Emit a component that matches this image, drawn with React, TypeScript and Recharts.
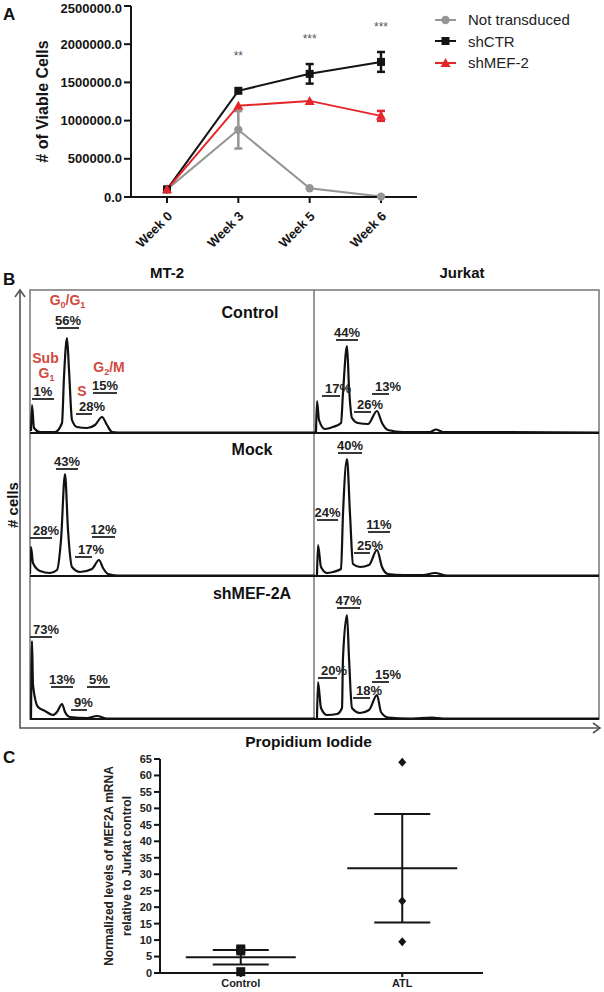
import React from "react";
import {
  LineChart, Line, XAxis, YAxis, ErrorBar, LabelList, Legend,
  ReferenceLine, ScatterChart, Scatter,
} from "recharts";

// ---- A: viable cells per week ----
const weeks = ["Week 0", "Week 3", "Week 5", "Week 6"];
const notTransduced = [100000, 880000, 115000, 5000];
const notTransducedSem = [0, 245000, 0, 0];
const shCTR = [100000, 1390000, 1612000, 1768000];
const shCTRSem = [0, 0, 128000, 130000];
const shMEF2 = [100000, 1195000, 1258000, 1062000];
const shMEF2Sem = [0, 0, 0, 65000];
const significance = ["", "**", "***", "***"];
const viableTicks = [0, 500000, 1000000, 1500000, 2000000, 2500000];

// ---- B: PI histograms, [channel, count] ----
const mt2Control = [[1, 2], [2, 28], [4, 5], [10, 1], [25, 1], [32, 10], [34, 56], [37, 95], [39, 63], [42, 13], [47, 6], [57, 5], [65, 8], [72, 16], [77, 8], [82, 1], [88, 0.5], [285, 0.5]];
const jurkatControl = [[2, 1], [3, 32], [5, 13], [11, 4], [19, 6], [27, 10], [29, 40], [33, 87], [35, 46], [38, 15], [44, 10], [54, 9], [63, 22], [68, 10], [74, 3], [89, 1], [116, 1], [122, 3.5], [129, 1], [285, 0.5]];
const mt2Mock = [[0, 2], [1, 29], [3, 13], [10, 5], [20, 3], [27, 6], [31, 36], [35, 102], [38, 46], [42, 9], [50, 4], [62, 7], [69, 16], [73, 8], [78, 2], [87, 0.5], [285, 0.5]];
const jurkatMock = [[3, 1], [4, 31], [7, 9], [13, 3], [19, 4], [27, 7], [29, 62], [33, 117], [36, 62], [39, 12], [46, 9], [55, 11], [63, 26], [68, 9], [74, 2], [89, 1], [109, 1], [121, 3], [133, 0.5], [285, 0.5]];
const mt2Shmef = [[1, 1], [2, 78], [3, 34], [8, 12], [15, 8], [23, 4], [27, 7], [32, 15], [35, 7], [40, 2], [57, 1], [67, 3], [77, 0.5], [285, 0.5]];
const jurkatShmef = [[3, 1], [4, 37], [7, 11], [13, 4], [23, 5], [28, 11], [29, 61], [33, 104], [35, 61], [38, 11], [46, 6], [55, 9], [63, 24], [67, 7], [74, 1.5], [96, 0.5], [118, 1.5], [129, 0.5], [285, 0.5]];

// gates: percentage, channel range, label height
const mt2ControlGates = [{ pct: "1%", lo: 2, hi: 24, lvl: 34 }, { pct: "56%", lo: 27, hi: 49, lvl: 105 }, { pct: "28%", lo: 46, hi: 62, lvl: 19 }, { pct: "15%", lo: 63, hi: 87, lvl: 40 }];
const jurkatControlGates = [{ pct: "17%", lo: 8, hi: 26, lvl: 37 }, { pct: "44%", lo: 22, hi: 44, lvl: 93 }, { pct: "26%", lo: 40, hi: 57, lvl: 21 }, { pct: "13%", lo: 58, hi: 75, lvl: 39 }];
const mt2MockGates = [{ pct: "28%", lo: 0, hi: 22, lvl: 38 }, { pct: "43%", lo: 26, hi: 48, lvl: 107 }, { pct: "17%", lo: 45, hi: 62, lvl: 19 }, { pct: "12%", lo: 62, hi: 85, lvl: 39 }];
const jurkatMockGates = [{ pct: "24%", lo: 3, hi: 24, lvl: 56 }, { pct: "40%", lo: 24, hi: 48, lvl: 123 }, { pct: "25%", lo: 40, hi: 56, lvl: 23 }, { pct: "11%", lo: 54, hi: 76, lvl: 44 }];
const mt2ShmefGates = [{ pct: "73%", lo: 0, hi: 22, lvl: 82 }, { pct: "13%", lo: 21, hi: 43, lvl: 32 }, { pct: "9%", lo: 41, hi: 57, lvl: 9 }, { pct: "5%", lo: 57, hi: 80, lvl: 32 }];
const jurkatShmefGates = [{ pct: "20%", lo: 4, hi: 23, lvl: 41 }, { pct: "47%", lo: 23, hi: 46, lvl: 111 }, { pct: "18%", lo: 39, hi: 56, lvl: 21 }, { pct: "15%", lo: 58, hi: 75, lvl: 37 }];

// ---- C: MEF2A mRNA ----
const mrnaGroups = ["Control", "ATL"];
const mrnaControl = [7.3, 0.4, 6.7];
const mrnaATL = [64.0, 21.9, 9.5];
const mrnaTicks = [0, 5, 10, 15, 20, 25, 30, 35, 40, 45, 50, 55, 60, 65];

const INK = "#141414";
const GRAY = "#959595";
const RED = "#e4262b";
const PHASE = "#d2493f";

const growth = weeks.map((week, i) => ({
  week,
  nt: notTransduced[i], ntErr: notTransducedSem[i],
  ctr: shCTR[i], ctrErr: shCTRSem[i],
  mef: shMEF2[i], mefErr: shMEF2Sem[i],
  sig: significance[i],
}));

const meanOf = (v: number[]) => v.reduce((a, b) => a + b, 0) / v.length;
const semOf = (v: number[]) => {
  const m = meanOf(v);
  return Math.sqrt(v.reduce((a, b) => a + (b - m) ** 2, 0) / (v.length - 1) / v.length);
};
const mrnaSets = [mrnaControl, mrnaATL];
const mrnaSummary = mrnaSets.map((v, i) => ({ pos: i + 0.5, level: meanOf(v), sem: semOf(v) }));
const mrnaPoints = (i: number) => mrnaSets[i].map((level) => ({ pos: i + 0.5, level }));

const CircleDot = ({ cx, cy }: any) => (cy == null ? null : <circle cx={cx} cy={cy} r={4.2} fill={GRAY} />);
const SquareDot = ({ cx, cy }: any) => (cy == null ? null : <rect x={cx - 4} y={cy - 4} width={8} height={8} fill={INK} />);
const TriangleDot = ({ cx, cy }: any) =>
  cy == null ? null : <polygon points={`${cx},${cy - 5} ${cx + 5},${cy + 4} ${cx - 5},${cy + 4}`} fill={RED} />;

const growthSeries = [
  { name: "Not transduced", color: GRAY, Mark: CircleDot },
  { name: "shCTR", color: INK, Mark: SquareDot },
  { name: "shMEF-2", color: RED, Mark: TriangleDot },
];

const GrowthLegend = () => (
  <div>
    {growthSeries.map(({ name, color, Mark }) => (
      <div key={name} style={{ display: "flex", alignItems: "center", height: 21.5 }}>
        <svg width={22} height={14}>
          <line x1={0} x2={21} y1={7} y2={7} stroke={color} strokeWidth={2} />
          <Mark cx={10.5} cy={7} />
        </svg>
        <span style={{ marginLeft: 11, fontSize: 15, color: "#222" }}>{name}</span>
      </div>
    ))}
  </div>
);

const WeekTick = ({ x, y, payload }: any) => (
  <text x={x + 6} y={y + 12} transform={`rotate(-45 ${x + 6} ${y + 12})`} textAnchor="end" fontSize={13} fontWeight="bold" fill={INK}>
    {payload.value}
  </text>
);

const ViableTitle = ({ viewBox }: any) => {
  const x = viewBox.x + 47.5;
  const y = viewBox.y + viewBox.height / 2;
  return (
    <text transform={`translate(${x},${y}) rotate(-90)`} textAnchor="middle" fontSize={16} fontWeight="bold" fill={INK}>
      # of Viable Cells
    </text>
  );
};

const MrnaTitle = ({ viewBox }: any) => {
  const x = viewBox.x + viewBox.width - 47.5;
  const y = viewBox.y + viewBox.height / 2;
  return (
    <g textAnchor="middle" fontSize={12} fontWeight="bold" fill="#222">
      <text transform={`translate(${x},${y}) rotate(-90)`}>Normalized levels of MEF2A mRNA</text>
      <text transform={`translate(${x + 18},${y}) rotate(-90)`}>relative to Jurkat control</text>
    </g>
  );
};

const SquareMark = ({ cx, cy }: any) => <rect x={cx - 4.5} y={cy - 4.5} width={9} height={9} fill={INK} />;
const DiamondMark = ({ cx, cy }: any) => (
  <polygon points={`${cx},${cy - 4.5} ${cx + 4},${cy} ${cx},${cy + 4.5} ${cx - 4},${cy}`} fill={INK} />
);
const MeanMark = ({ cx, cy }: any) => <line x1={cx - 55} x2={cx + 55} y1={cy} y2={cy} stroke={INK} strokeWidth={2} />;

// narrow gates and gates at the left edge get a left-aligned label
const gatePosition = (g: any) => (g.hi - g.lo < 20 || g.lo < 2 ? "insideBottomLeft" : "top");

const Histogram = ({ trace, gates, left, top }: any) => (
  <div style={{ position: "absolute", left, top }}>
    <LineChart width={285} height={143} data={trace.map(([ch, n]: number[]) => ({ ch, n }))} margin={{ top: 0, right: 0, bottom: 0, left: 0 }}>
      <XAxis type="number" dataKey="ch" domain={[0, 285]} hide />
      <YAxis type="number" domain={[0, 143]} hide />
      {gates.map((g: any, i: number) => (
        <ReferenceLine
          key={i}
          segment={[{ x: g.lo, y: g.lvl }, { x: g.hi, y: g.lvl }]}
          stroke="#222"
          strokeWidth={1.8}
          label={{ value: g.pct, position: gatePosition(g), offset: 3, fontSize: 13, fontWeight: "bold", fill: "#222" }}
        />
      ))}
      <Line type="monotone" dataKey="n" stroke="#111" strokeWidth={2.2} dot={false} isAnimationActive={false} />
    </LineChart>
  </div>
);

const histPanels = [
  { trace: mt2Control, gates: mt2ControlGates, left: 30, top: 290 },
  { trace: jurkatControl, gates: jurkatControlGates, left: 314, top: 290 },
  { trace: mt2Mock, gates: mt2MockGates, left: 30, top: 433 },
  { trace: jurkatMock, gates: jurkatMockGates, left: 314, top: 433 },
  { trace: mt2Shmef, gates: mt2ShmefGates, left: 30, top: 576 },
  { trace: jurkatShmef, gates: jurkatShmefGates, left: 314, top: 576 },
];

const bold = { fontWeight: "bold" as const };

export default function App() {
  return (
    <div style={{ position: "absolute", left: 0, top: 0, width: 604, height: 992, background: "#fff", fontFamily: "'Liberation Sans', Arial, sans-serif", overflow: "hidden" }}>
      <svg width={604} height={992} style={{ position: "absolute", left: 0, top: 0 }}>
        <g {...bold} fill="#111">
          <text x={3} y={20} fontSize={17}>A</text>
          <text x={3} y={285} fontSize={17}>B</text>
          <text x={3} y={763} fontSize={17}>C</text>
          <text x={167} y={278} fontSize={15} textAnchor="middle">MT-2</text>
          <text x={462} y={277.5} fontSize={15} textAnchor="middle">Jurkat</text>
          <text x={250} y={317.5} fontSize={16} textAnchor="middle">Control</text>
          <text x={252} y={455} fontSize={16} textAnchor="middle">Mock</text>
          <text x={252} y={599} fontSize={16} textAnchor="middle">shMEF-2A</text>
          <text transform="translate(17.5,505) rotate(-90)" fontSize={15} textAnchor="middle"># cells</text>
          <text x={308.5} y={747} fontSize={15.5} textAnchor="middle">Propidium Iodide</text>
        </g>
        <g {...bold} fill={PHASE} fontSize={14} textAnchor="middle">
          <text x={67.5} y={305}>G<tspan fontSize={9} dy={3}>0</tspan><tspan dy={-3}>/G</tspan><tspan fontSize={9} dy={3}>1</tspan></text>
          <text x={45.5} y={362.7}>Sub</text>
          <text x={46.5} y={378}>G<tspan fontSize={9} dy={3}>1</tspan></text>
          <text x={82} y={396}>S</text>
          <text x={109} y={372}>G<tspan fontSize={9} dy={3}>2</tspan><tspan dy={-3}>/M</tspan></text>
        </g>
        <g stroke="#777" strokeWidth={1.5} fill="none">
          <rect x={30} y={290} width={569} height={429} />
          <line x1={314} x2={314} y1={290} y2={719} />
        </g>
        <g stroke={INK} strokeWidth={2}>
          <line x1={30} x2={599} y1={433} y2={433} />
          <line x1={30} x2={599} y1={576} y2={576} />
          <line x1={30} x2={599} y1={719} y2={719} />
        </g>
        <g stroke="#555" strokeWidth={1.6} fill="none">
          <polyline points="20,291 20,728 600,728" />
          <polyline points="15,297 20,290 25,297" />
          <polyline points="593,723 600,728 593,733" />
        </g>
      </svg>

      <div style={{ position: "absolute", left: 0, top: 0 }}>
        <LineChart width={604} height={264} data={growth} margin={{ top: 6, right: 187, bottom: 14, left: 0 }}>
          <XAxis dataKey="week" height={53} interval={0} padding={{ left: 36, right: 36 }} tick={<WeekTick />} tickSize={6}
            axisLine={{ stroke: INK, strokeWidth: 2 }} tickLine={{ stroke: INK, strokeWidth: 2 }} />
          <YAxis width={131} domain={[0, 2500000]} ticks={viableTicks} tickFormatter={(v: number) => v.toFixed(1)} tickSize={7}
            axisLine={{ stroke: INK, strokeWidth: 2 }} tickLine={{ stroke: INK, strokeWidth: 2 }}
            tick={{ fontSize: 13, fontWeight: "bold", fill: INK }} label={<ViableTitle />} />
          <Legend layout="horizontal" verticalAlign="middle" align="center" wrapperStyle={{ left: 435, top: 9, width: 170 }} content={() => <GrowthLegend />} />
          <Line dataKey="nt" name="Not transduced" stroke={GRAY} strokeWidth={2} dot={<CircleDot />} isAnimationActive={false}>
            <ErrorBar dataKey="ntErr" direction="y" width={4} stroke={GRAY} strokeWidth={2.5} />
          </Line>
          <Line dataKey="ctr" name="shCTR" stroke={INK} strokeWidth={2} dot={<SquareDot />} isAnimationActive={false}>
            <ErrorBar dataKey="ctrErr" direction="y" width={4} stroke={INK} strokeWidth={2.5} />
            <LabelList dataKey="sig" position="top" offset={31} fontSize={12} fill="#555" />
          </Line>
          <Line dataKey="mef" name="shMEF-2" stroke={RED} strokeWidth={2} dot={<TriangleDot />} isAnimationActive={false}>
            <ErrorBar dataKey="mefErr" direction="y" width={4} stroke={RED} strokeWidth={2.5} />
          </Line>
        </LineChart>
      </div>

      {histPanels.map((p, i) => (
        <Histogram key={i} {...p} />
      ))}

      <div style={{ position: "absolute", left: 0, top: 740 }}>
        <ScatterChart width={604} height={252} margin={{ top: 19, right: 121, bottom: 0, left: 0 }}>
          <XAxis type="number" dataKey="pos" domain={[0, 2]} ticks={[0.5, 1.5]} tickFormatter={(v: number) => mrnaGroups[Math.floor(v)]}
            height={19} tickSize={4} axisLine={{ stroke: INK, strokeWidth: 2 }} tickLine={{ stroke: INK, strokeWidth: 2 }}
            tick={{ fontSize: 11, fontWeight: "bold", fill: "#222" }} />
          <YAxis type="number" dataKey="level" domain={[0, 65]} ticks={mrnaTicks} interval={0} width={160} tickSize={6}
            axisLine={{ stroke: INK, strokeWidth: 2 }} tickLine={{ stroke: INK, strokeWidth: 2 }}
            tick={{ fontSize: 11, fontWeight: "bold", fill: "#222" }} label={<MrnaTitle />} />
          <Scatter data={mrnaPoints(0)} shape={<SquareMark />} isAnimationActive={false} />
          <Scatter data={mrnaPoints(1)} shape={<DiamondMark />} isAnimationActive={false} />
          <Scatter data={mrnaSummary} shape={<MeanMark />} isAnimationActive={false}>
            <ErrorBar dataKey="sem" direction="y" width={28} stroke={INK} strokeWidth={2} />
          </Scatter>
        </ScatterChart>
      </div>
    </div>
  );
}
